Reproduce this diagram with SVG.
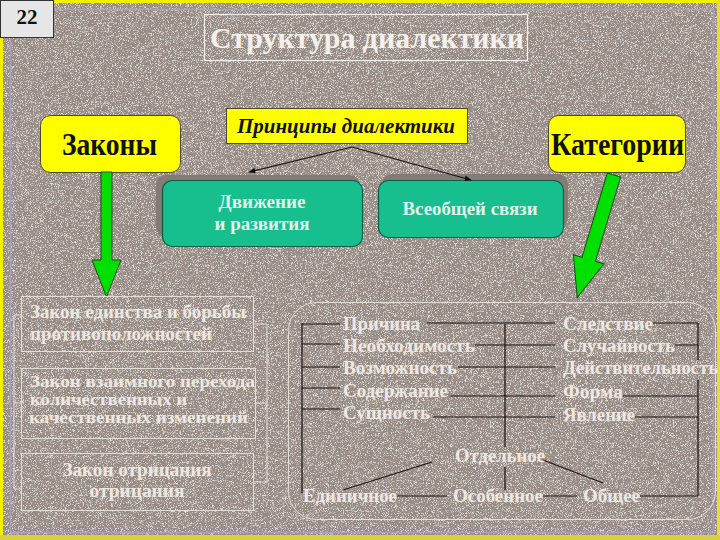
<svg xmlns="http://www.w3.org/2000/svg" width="720" height="540" viewBox="0 0 720 540">
<defs>
<filter id="grain" x="0" y="0" width="100%" height="100%" filterUnits="userSpaceOnUse">
<feFlood flood-color="#988b84" result="base"/>
<feTurbulence type="fractalNoise" baseFrequency="1.4" numOctaves="2" seed="7" result="n"/>
<feColorMatrix in="n" type="matrix" values="0 0 0 0 0.3  0 0 0 0 0.27  0 0 0 0 0.25  -4 0 0 0 2.0" result="dark"/>
<feColorMatrix in="n" type="matrix" values="0 0 0 0 0.78  0 0 0 0 0.75  0 0 0 0 0.72  0 4 0 0 -2.0" result="light"/>
<feMerge><feMergeNode in="base"/><feMergeNode in="dark"/><feMergeNode in="light"/></feMerge>
</filter>
<marker id="ah" viewBox="0 0 10 10" refX="9" refY="5" markerWidth="7" markerHeight="7" orient="auto" markerUnits="userSpaceOnUse">
<path d="M0,1 L10,5 L0,9 z" fill="#111"/>
</marker>
<style>
.yel{fill:#ffff00;stroke:#4a4a2a;stroke-width:1}
.teal{fill:#17bf8e;stroke:#0b5e46;stroke-width:1.2}
.shadow{fill:#847b77}
.big{font-family:"Liberation Serif","Times New Roman",serif;font-weight:bold;fill:#111}
.tt{font-family:"Liberation Serif","Times New Roman",serif;font-weight:bold;fill:#e2f2ea;font-size:18px}
.wt{font-family:"Liberation Serif","Times New Roman",serif;font-weight:bold;fill:#eee8e2;font-size:18px}
.ws{font-size:16px}
.outl{fill:none;stroke:#e4ddd5;stroke-width:1}
.ln{fill:none;stroke:#1a1210;stroke-width:1.2}
.green{fill:#00e000;stroke:#1e4a1e;stroke-width:1}
</style>
</defs>

<rect x="0" y="0" width="720" height="540" filter="url(#grain)"/>

<g id="frame" fill="none">
<path d="M54,1.5 H720 M1.5,38 V540" stroke="#f0f000" stroke-width="3"/>
<path d="M718.5,0 V540" stroke="#e8e020" stroke-width="3"/>
<path d="M0,537.5 H720" stroke="#d8d040" stroke-width="5"/>
<path d="M54,9.5 H713.5 V532.5 H10.5 V38" stroke="#a9a0c4" stroke-width="1.5"/>
</g>

<g id="page-number">
<rect x="0.5" y="0.5" width="53" height="37" fill="#e6e6e6" stroke="#333" stroke-width="1"/>
<text x="27" y="24" class="big" font-size="21" text-anchor="middle">22</text>
</g>

<g id="title">
<rect x="204.5" y="14.5" width="323" height="46" fill="none" stroke="#f4f0ec" stroke-width="1.2"/>
<text x="210" y="48" font-family="Liberation Serif, Times New Roman, serif" font-weight="bold" font-size="30" fill="#f4f0ec" textLength="314" lengthAdjust="spacingAndGlyphs">Структура диалектики</text>
</g>

<g id="zakony">
<rect x="40.5" y="115.5" width="140" height="57" rx="10" class="yel"/>
<text x="62" y="155" class="big" font-size="32" textLength="95" lengthAdjust="spacingAndGlyphs">Законы</text>
</g>

<g id="principy">
<rect x="226.5" y="108.5" width="241" height="35" class="yel"/>
<text x="237" y="133" class="big" font-size="20" font-style="italic" textLength="218" lengthAdjust="spacingAndGlyphs">Принципы диалектики</text>
</g>

<g id="kategorii">
<rect x="548.5" y="115.5" width="137" height="57" rx="10" class="yel"/>
<text x="551" y="155" class="big" font-size="32" textLength="133" lengthAdjust="spacingAndGlyphs">Категории</text>
</g>

<g id="dvizhenie">
<rect x="156" y="175" width="204" height="62" rx="10" class="shadow"/>
<rect x="162.5" y="180.5" width="200" height="66" rx="10" class="teal"/>
<text x="262" y="208" class="tt" text-anchor="middle" textLength="87" lengthAdjust="spacingAndGlyphs">Движение</text>
<text x="262" y="230" class="tt" text-anchor="middle" textLength="95" lengthAdjust="spacingAndGlyphs">и развития</text>
</g>

<g id="vseobschey">
<rect x="382" y="174" width="186" height="54" rx="10" class="shadow"/>
<rect x="378.5" y="180.5" width="185" height="57" rx="10" class="teal"/>
<text x="470" y="215" class="tt" text-anchor="middle" textLength="135" lengthAdjust="spacingAndGlyphs">Всеобщей связи</text>
</g>

<g id="connectors">
<path d="M352,147 L249,172" class="ln" stroke-width="1.4" marker-end="url(#ah)"/>
<path d="M352,147 L471,180" class="ln" stroke-width="1.4" marker-end="url(#ah)"/>
<polygon points="101,172 112,172 112,260 121,260 106.5,297 92,260 101,260" class="green"/>
<polygon points="-7,0 7,0 7,88 16,88 0,128 -16,88 -7,88" class="green" transform="translate(614,175) rotate(16.7)"/>
<path d="M21,315 H14 V489 H21 M14,403 H21" class="outl"/>
<path d="M254,324 H267 V482 H254 M256,403 H267" class="outl"/>
<path d="M302,323 V493 M302,324 H340 M302,344 H340 M302,367 H340 M302,388 H340 M302,409 H340" class="ln"/>
<path d="M427,323 H555 M475,345 H555 M458,367 H555 M450,396 H555 M433,417 H555" class="ln"/>
<path d="M505,324 V447 M505,467 V490" class="ln"/>
<path d="M653,323 H698 M675,345 H698 M623,396 H698 M635,417 H698 M698,323 V360 M698,380 V496" class="ln"/>
<path d="M397,496 H447 M543,496 H577 M640,496 H698" class="ln"/>
<path d="M343,490 L432,462 M543,460 L603,483" class="ln"/>
</g>

<g id="law1">
<rect x="21.5" y="296.5" width="232" height="55" class="outl"/>
<text x="30" y="318" class="wt" textLength="216" lengthAdjust="spacingAndGlyphs">Закон единства и борьбы</text>
<text x="30" y="340" class="wt" textLength="182" lengthAdjust="spacingAndGlyphs">противоположностей</text>
</g>
<g id="law2">
<rect x="21.5" y="368.5" width="234" height="70" class="outl"/>
<text x="30" y="387" class="wt ws" textLength="225" lengthAdjust="spacingAndGlyphs">Закон взаимного перехода</text>
<text x="30" y="405" class="wt ws" textLength="157" lengthAdjust="spacingAndGlyphs">количественных и</text>
<text x="29" y="423" class="wt ws" textLength="219" lengthAdjust="spacingAndGlyphs">качественных изменений</text>
</g>
<g id="law3">
<rect x="21.5" y="453.5" width="232" height="57" class="outl"/>
<text x="137" y="476" class="wt" text-anchor="middle" textLength="149" lengthAdjust="spacingAndGlyphs">Закон отрицания</text>
<text x="137" y="497" class="wt" text-anchor="middle" textLength="95" lengthAdjust="spacingAndGlyphs">отрицания</text>
</g>

<g id="categories-panel">
<rect x="288.5" y="302.5" width="427" height="217" rx="28" class="outl"/>
</g>

<g id="left-categories">
<text x="343" y="330" class="wt" textLength="77" lengthAdjust="spacingAndGlyphs">Причина</text>
<text x="343" y="352" class="wt" textLength="132" lengthAdjust="spacingAndGlyphs">Необходимость</text>
<text x="343" y="374" class="wt" textLength="114" lengthAdjust="spacingAndGlyphs">Возможность</text>
<text x="343" y="397" class="wt" textLength="105" lengthAdjust="spacingAndGlyphs">Содержание</text>
<text x="343" y="419" class="wt" textLength="87" lengthAdjust="spacingAndGlyphs">Сущность</text>
</g>

<g id="right-categories">
<text x="563" y="330" class="wt" textLength="90" lengthAdjust="spacingAndGlyphs">Следствие</text>
<text x="563" y="352" class="wt" textLength="112" lengthAdjust="spacingAndGlyphs">Случайность</text>
<text x="563" y="374" class="wt" textLength="155" lengthAdjust="spacingAndGlyphs">Действительность</text>
<text x="563" y="398" class="wt" textLength="60" lengthAdjust="spacingAndGlyphs">Форма</text>
<text x="563" y="421" class="wt" textLength="72" lengthAdjust="spacingAndGlyphs">Явление</text>
</g>

<g id="bottom-categories">
<text x="455" y="462" class="wt" textLength="90" lengthAdjust="spacingAndGlyphs">Отдельное</text>
<text x="303" y="502" class="wt" textLength="94" lengthAdjust="spacingAndGlyphs">Единичное</text>
<text x="453" y="502" class="wt" textLength="90" lengthAdjust="spacingAndGlyphs">Особенное</text>
<text x="583" y="502" class="wt" textLength="57" lengthAdjust="spacingAndGlyphs">Общее</text>
</g>
</svg>
